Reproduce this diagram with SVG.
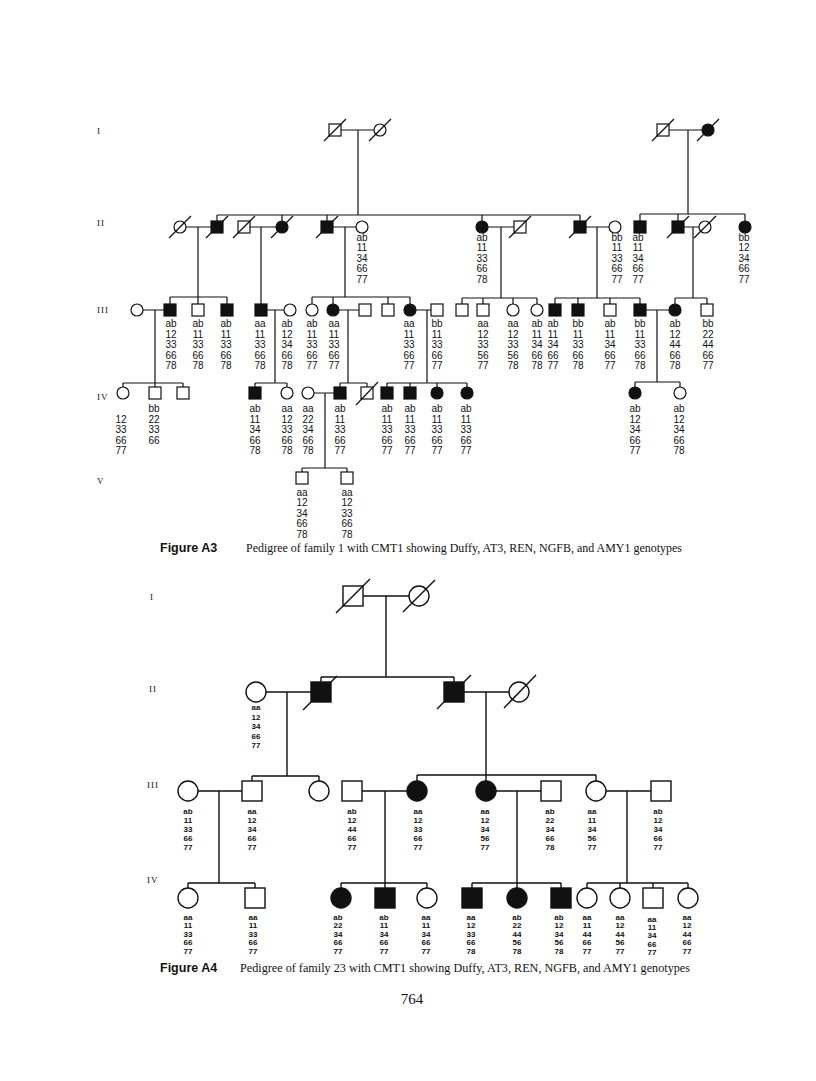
<svg xmlns="http://www.w3.org/2000/svg" width="816" height="1081" viewBox="0 0 816 1081">
<style>
.ln{stroke:#111;stroke-width:1.2;fill:none}
.ln4{stroke:#111;stroke-width:1.4;fill:none}
.o{fill:#fff;stroke:#111;stroke-width:1.2}
.f{fill:#111;stroke:#111;stroke-width:1.2}
.o4{fill:#fff;stroke:#111;stroke-width:1.4}
.f4{fill:#111;stroke:#111;stroke-width:1.4}
.d{stroke:#111;stroke-width:1.2}
.d4{stroke:#111;stroke-width:1.4}
.g3{font-family:"Liberation Sans","DejaVu Sans",Arial,sans-serif;font-size:10px;text-anchor:middle;fill:#111}
.g4{font-family:"Liberation Sans","DejaVu Sans",Arial,sans-serif;font-size:8px;font-weight:bold;text-anchor:middle;fill:#111}
.gen{font-family:"Liberation Serif","Times New Roman",serif;font-size:9px;fill:#111;letter-spacing:1px}
.cap{font-family:"Liberation Serif","Times New Roman",serif;font-size:12px;fill:#111}
.fig{font-family:"Liberation Sans",Arial,sans-serif;font-weight:bold;font-size:12.5px;fill:#111}
</style>
<rect width="816" height="1081" fill="#fff"/>

<!-- ===== Figure A3 ===== -->
<g id="a3-genlabels">
<text class="gen" x="97" y="134">I</text>
<text class="gen" x="97" y="226">II</text>
<text class="gen" x="97" y="312.5">III</text>
<text class="gen" x="97" y="399.5">IV</text>
<text class="gen" x="97" y="483.5">V</text>
</g>

<g id="a3-connectors">
<path class="ln" d="M341 130H374M358 130V215M217 215H580M217 215V221M282 215V221M327 215V221M482 215V221M580 215V221"/>
<path class="ln" d="M669 130H702M688 130V214M640 214H745M640 214V221M678 214V221M745 214V221"/>
<path class="ln" d="M186 227H211M198 227V297M250 227H276M261 227V304M333 227H356M345 227V297M488 227H514M501 227V298M586 227H609M597 227V298M684 227H699M693 227V298"/>
<path class="ln" d="M170 297H227M170 297V304M198 297V304M227 297V304M312 297H410M312 297V304M333 297V304M388 297V304M410 297V304M462 298H537M462 298V304M483 298V304M513 298V304M537 298V304M555 298H640M555 298V304M578 298V304M610 298V304M640 298V304M675 298H707M675 298V304M707 298V304"/>
<path class="ln" d="M143 310H164M155 310V383M267 310H284M275 310V383M339 310H359M348 310V383M416 310H431M427 310V383M646 310H669M657 310V382"/>
<path class="ln" d="M123 383H183M123 383V387M155 383V387M183 383V387M255 383H287M255 383V387M287 383V387M340 383H367M340 383V387M367 383V387M387 383H467M387 383V387M410 383V387M437 383V387M467 383V387M635 382H680M635 382V387M680 382V387"/>
<path class="ln" d="M314 393H334M325 393V468M302 468H347M302 468V472M347 468V472"/>
</g>

<!-- Gen I -->
<g id="a3-I-1"><rect class="o" x="329" y="124" width="12" height="12"/><line class="d" x1="324" y1="141" x2="346" y2="119"/></g>
<g id="a3-I-2"><circle class="o" cx="380" cy="130" r="6"/><line class="d" x1="369" y1="141" x2="391" y2="119"/></g>
<g id="a3-I-3"><rect class="o" x="657" y="124" width="12" height="12"/><line class="d" x1="652" y1="141" x2="674" y2="119"/></g>
<g id="a3-I-4"><circle class="f" cx="708" cy="130" r="6"/><line class="d" x1="697" y1="141" x2="719" y2="119"/></g>

<!-- Gen II -->
<g id="a3-II-1"><circle class="o" cx="180" cy="227" r="6"/><line class="d" x1="169" y1="238" x2="191" y2="216"/></g>
<g id="a3-II-2"><rect class="f" x="211" y="221" width="12" height="12"/><line class="d" x1="206" y1="238" x2="228" y2="216"/></g>
<g id="a3-II-3"><rect class="o" x="238" y="221" width="12" height="12"/><line class="d" x1="233" y1="238" x2="255" y2="216"/></g>
<g id="a3-II-4"><circle class="f" cx="282" cy="227" r="6"/><line class="d" x1="271" y1="238" x2="293" y2="216"/></g>
<g id="a3-II-5"><rect class="f" x="321" y="221" width="12" height="12"/><line class="d" x1="316" y1="238" x2="338" y2="216"/></g>
<g id="a3-II-6"><circle class="o" cx="362" cy="227" r="6"/><text class="g3" x="362" y="240.5"><tspan x="362">ab</tspan><tspan x="362" dy="10.6">11</tspan><tspan x="362" dy="10.6">34</tspan><tspan x="362" dy="10.6">66</tspan><tspan x="362" dy="10.6">77</tspan></text></g>
<g id="a3-II-7"><circle class="f" cx="482" cy="227" r="6"/><text class="g3" x="482" y="240.5"><tspan x="482">ab</tspan><tspan x="482" dy="10.6">11</tspan><tspan x="482" dy="10.6">33</tspan><tspan x="482" dy="10.6">66</tspan><tspan x="482" dy="10.6">78</tspan></text></g>
<g id="a3-II-8"><rect class="o" x="514" y="221" width="12" height="12"/><line class="d" x1="509" y1="238" x2="531" y2="216"/></g>
<g id="a3-II-9"><rect class="f" x="574" y="221" width="12" height="12"/><line class="d" x1="569" y1="238" x2="591" y2="216"/></g>
<g id="a3-II-10"><circle class="o" cx="615" cy="227" r="6"/><text class="g3" x="617" y="240.5"><tspan x="617">bb</tspan><tspan x="617" dy="10.6">11</tspan><tspan x="617" dy="10.6">33</tspan><tspan x="617" dy="10.6">66</tspan><tspan x="617" dy="10.6">77</tspan></text></g>
<g id="a3-II-11"><rect class="f" x="634" y="221" width="12" height="12"/><text class="g3" x="638" y="240.5"><tspan x="638">ab</tspan><tspan x="638" dy="10.6">11</tspan><tspan x="638" dy="10.6">34</tspan><tspan x="638" dy="10.6">66</tspan><tspan x="638" dy="10.6">77</tspan></text></g>
<g id="a3-II-12"><rect class="f" x="672" y="221" width="12" height="12"/><line class="d" x1="667" y1="238" x2="689" y2="216"/></g>
<g id="a3-II-13"><circle class="o" cx="705" cy="227" r="6"/><line class="d" x1="694" y1="238" x2="716" y2="216"/></g>
<g id="a3-II-14"><circle class="f" cx="745" cy="227" r="6"/><text class="g3" x="744" y="240.5"><tspan x="744">bb</tspan><tspan x="744" dy="10.6">12</tspan><tspan x="744" dy="10.6">34</tspan><tspan x="744" dy="10.6">66</tspan><tspan x="744" dy="10.6">77</tspan></text></g>

<!-- Gen III -->
<g id="a3-III-1"><circle class="o" cx="137" cy="310" r="6"/></g>
<g id="a3-III-2"><rect class="f" x="164" y="304" width="12" height="12"/><text class="g3" x="171" y="327"><tspan x="171">ab</tspan><tspan x="171" dy="10.6">12</tspan><tspan x="171" dy="10.6">33</tspan><tspan x="171" dy="10.6">66</tspan><tspan x="171" dy="10.6">78</tspan></text></g>
<g id="a3-III-3"><rect class="o" x="192" y="304" width="12" height="12"/><text class="g3" x="198" y="327"><tspan x="198">ab</tspan><tspan x="198" dy="10.6">11</tspan><tspan x="198" dy="10.6">33</tspan><tspan x="198" dy="10.6">66</tspan><tspan x="198" dy="10.6">78</tspan></text></g>
<g id="a3-III-4"><rect class="f" x="221" y="304" width="12" height="12"/><text class="g3" x="226" y="327"><tspan x="226">ab</tspan><tspan x="226" dy="10.6">11</tspan><tspan x="226" dy="10.6">33</tspan><tspan x="226" dy="10.6">66</tspan><tspan x="226" dy="10.6">78</tspan></text></g>
<g id="a3-III-5"><rect class="f" x="255" y="304" width="12" height="12"/><text class="g3" x="260" y="327"><tspan x="260">aa</tspan><tspan x="260" dy="10.6">11</tspan><tspan x="260" dy="10.6">33</tspan><tspan x="260" dy="10.6">66</tspan><tspan x="260" dy="10.6">78</tspan></text></g>
<g id="a3-III-6"><circle class="o" cx="290" cy="310" r="6"/><text class="g3" x="287" y="327"><tspan x="287">ab</tspan><tspan x="287" dy="10.6">12</tspan><tspan x="287" dy="10.6">34</tspan><tspan x="287" dy="10.6">66</tspan><tspan x="287" dy="10.6">78</tspan></text></g>
<g id="a3-III-7"><circle class="o" cx="312" cy="310" r="6"/><text class="g3" x="312" y="327"><tspan x="312">ab</tspan><tspan x="312" dy="10.6">11</tspan><tspan x="312" dy="10.6">33</tspan><tspan x="312" dy="10.6">66</tspan><tspan x="312" dy="10.6">77</tspan></text></g>
<g id="a3-III-8"><circle class="f" cx="333" cy="310" r="6"/><text class="g3" x="334" y="327"><tspan x="334">aa</tspan><tspan x="334" dy="10.6">11</tspan><tspan x="334" dy="10.6">33</tspan><tspan x="334" dy="10.6">66</tspan><tspan x="334" dy="10.6">77</tspan></text></g>
<g id="a3-III-9"><rect class="o" x="359" y="304" width="12" height="12"/></g>
<g id="a3-III-10"><rect class="o" x="382" y="304" width="12" height="12"/></g>
<g id="a3-III-11"><circle class="f" cx="410" cy="310" r="6"/><text class="g3" x="409" y="327"><tspan x="409">aa</tspan><tspan x="409" dy="10.6">11</tspan><tspan x="409" dy="10.6">33</tspan><tspan x="409" dy="10.6">66</tspan><tspan x="409" dy="10.6">77</tspan></text></g>
<g id="a3-III-12"><rect class="o" x="431" y="304" width="12" height="12"/><text class="g3" x="437" y="327"><tspan x="437">bb</tspan><tspan x="437" dy="10.6">11</tspan><tspan x="437" dy="10.6">33</tspan><tspan x="437" dy="10.6">66</tspan><tspan x="437" dy="10.6">77</tspan></text></g>
<g id="a3-III-13"><rect class="o" x="456" y="304" width="12" height="12"/></g>
<g id="a3-III-14"><rect class="o" x="477" y="304" width="12" height="12"/><text class="g3" x="483" y="327"><tspan x="483">aa</tspan><tspan x="483" dy="10.6">12</tspan><tspan x="483" dy="10.6">33</tspan><tspan x="483" dy="10.6">56</tspan><tspan x="483" dy="10.6">77</tspan></text></g>
<g id="a3-III-15"><circle class="o" cx="513" cy="310" r="6"/><text class="g3" x="513" y="327"><tspan x="513">aa</tspan><tspan x="513" dy="10.6">12</tspan><tspan x="513" dy="10.6">33</tspan><tspan x="513" dy="10.6">56</tspan><tspan x="513" dy="10.6">78</tspan></text></g>
<g id="a3-III-16"><circle class="o" cx="537" cy="310" r="6"/><text class="g3" x="537" y="327"><tspan x="537">ab</tspan><tspan x="537" dy="10.6">11</tspan><tspan x="537" dy="10.6">34</tspan><tspan x="537" dy="10.6">66</tspan><tspan x="537" dy="10.6">78</tspan></text></g>
<g id="a3-III-17"><rect class="f" x="549" y="304" width="12" height="12"/><text class="g3" x="553" y="327"><tspan x="553">ab</tspan><tspan x="553" dy="10.6">11</tspan><tspan x="553" dy="10.6">34</tspan><tspan x="553" dy="10.6">66</tspan><tspan x="553" dy="10.6">77</tspan></text></g>
<g id="a3-III-18"><rect class="f" x="572" y="304" width="12" height="12"/><text class="g3" x="578" y="327"><tspan x="578">bb</tspan><tspan x="578" dy="10.6">11</tspan><tspan x="578" dy="10.6">33</tspan><tspan x="578" dy="10.6">66</tspan><tspan x="578" dy="10.6">78</tspan></text></g>
<g id="a3-III-19"><rect class="o" x="604" y="304" width="12" height="12"/><text class="g3" x="610" y="327"><tspan x="610">ab</tspan><tspan x="610" dy="10.6">11</tspan><tspan x="610" dy="10.6">34</tspan><tspan x="610" dy="10.6">66</tspan><tspan x="610" dy="10.6">77</tspan></text></g>
<g id="a3-III-20"><rect class="f" x="634" y="304" width="12" height="12"/><text class="g3" x="640" y="327"><tspan x="640">bb</tspan><tspan x="640" dy="10.6">11</tspan><tspan x="640" dy="10.6">33</tspan><tspan x="640" dy="10.6">66</tspan><tspan x="640" dy="10.6">78</tspan></text></g>
<g id="a3-III-21"><circle class="f" cx="675" cy="310" r="6"/><text class="g3" x="675" y="327"><tspan x="675">ab</tspan><tspan x="675" dy="10.6">12</tspan><tspan x="675" dy="10.6">44</tspan><tspan x="675" dy="10.6">66</tspan><tspan x="675" dy="10.6">78</tspan></text></g>
<g id="a3-III-22"><rect class="o" x="701" y="304" width="12" height="12"/><text class="g3" x="708" y="327"><tspan x="708">bb</tspan><tspan x="708" dy="10.6">22</tspan><tspan x="708" dy="10.6">44</tspan><tspan x="708" dy="10.6">66</tspan><tspan x="708" dy="10.6">77</tspan></text></g>

<!-- Gen IV -->
<g id="a3-IV-1"><circle class="o" cx="123" cy="393" r="6"/><text class="g3" x="121" y="422.5"><tspan x="121">12</tspan><tspan x="121" dy="10.6">33</tspan><tspan x="121" dy="10.6">66</tspan><tspan x="121" dy="10.6">77</tspan></text></g>
<g id="a3-IV-2"><rect class="o" x="149" y="387" width="12" height="12"/><text class="g3" x="154" y="412"><tspan x="154">bb</tspan><tspan x="154" dy="10.6">22</tspan><tspan x="154" dy="10.6">33</tspan><tspan x="154" dy="10.6">66</tspan></text></g>
<g id="a3-IV-3"><rect class="o" x="177" y="387" width="12" height="12"/></g>
<g id="a3-IV-4"><rect class="f" x="249" y="387" width="12" height="12"/><text class="g3" x="255" y="412"><tspan x="255">ab</tspan><tspan x="255" dy="10.6">11</tspan><tspan x="255" dy="10.6">34</tspan><tspan x="255" dy="10.6">66</tspan><tspan x="255" dy="10.6">78</tspan></text></g>
<g id="a3-IV-5"><circle class="o" cx="287" cy="393" r="6"/><text class="g3" x="287" y="412"><tspan x="287">aa</tspan><tspan x="287" dy="10.6">12</tspan><tspan x="287" dy="10.6">33</tspan><tspan x="287" dy="10.6">66</tspan><tspan x="287" dy="10.6">78</tspan></text></g>
<g id="a3-IV-6"><circle class="o" cx="308" cy="393" r="6"/><text class="g3" x="308" y="412"><tspan x="308">aa</tspan><tspan x="308" dy="10.6">22</tspan><tspan x="308" dy="10.6">34</tspan><tspan x="308" dy="10.6">66</tspan><tspan x="308" dy="10.6">78</tspan></text></g>
<g id="a3-IV-7"><rect class="f" x="334" y="387" width="12" height="12"/><text class="g3" x="340" y="412"><tspan x="340">ab</tspan><tspan x="340" dy="10.6">11</tspan><tspan x="340" dy="10.6">33</tspan><tspan x="340" dy="10.6">66</tspan><tspan x="340" dy="10.6">77</tspan></text></g>
<g id="a3-IV-8"><rect class="o" x="361" y="387" width="12" height="12"/><line class="d" x1="356" y1="405" x2="378" y2="382"/></g>
<g id="a3-IV-9"><rect class="f" x="381" y="387" width="12" height="12"/><text class="g3" x="387" y="412"><tspan x="387">ab</tspan><tspan x="387" dy="10.6">11</tspan><tspan x="387" dy="10.6">33</tspan><tspan x="387" dy="10.6">66</tspan><tspan x="387" dy="10.6">77</tspan></text></g>
<g id="a3-IV-10"><rect class="f" x="404" y="387" width="12" height="12"/><text class="g3" x="410" y="412"><tspan x="410">ab</tspan><tspan x="410" dy="10.6">11</tspan><tspan x="410" dy="10.6">33</tspan><tspan x="410" dy="10.6">66</tspan><tspan x="410" dy="10.6">77</tspan></text></g>
<g id="a3-IV-11"><circle class="f" cx="437" cy="393" r="6"/><text class="g3" x="437" y="412"><tspan x="437">ab</tspan><tspan x="437" dy="10.6">11</tspan><tspan x="437" dy="10.6">33</tspan><tspan x="437" dy="10.6">66</tspan><tspan x="437" dy="10.6">77</tspan></text></g>
<g id="a3-IV-12"><circle class="f" cx="467" cy="393" r="6"/><text class="g3" x="466" y="412"><tspan x="466">ab</tspan><tspan x="466" dy="10.6">11</tspan><tspan x="466" dy="10.6">33</tspan><tspan x="466" dy="10.6">66</tspan><tspan x="466" dy="10.6">77</tspan></text></g>
<g id="a3-IV-13"><circle class="f" cx="635" cy="393" r="6"/><text class="g3" x="635" y="412"><tspan x="635">ab</tspan><tspan x="635" dy="10.6">12</tspan><tspan x="635" dy="10.6">34</tspan><tspan x="635" dy="10.6">66</tspan><tspan x="635" dy="10.6">77</tspan></text></g>
<g id="a3-IV-14"><circle class="o" cx="680" cy="393" r="6"/><text class="g3" x="679" y="412"><tspan x="679">ab</tspan><tspan x="679" dy="10.6">12</tspan><tspan x="679" dy="10.6">34</tspan><tspan x="679" dy="10.6">66</tspan><tspan x="679" dy="10.6">78</tspan></text></g>

<!-- Gen V -->
<g id="a3-V-1"><rect class="o" x="296" y="472" width="12" height="12"/><text class="g3" x="302" y="495.5"><tspan x="302">aa</tspan><tspan x="302" dy="10.6">12</tspan><tspan x="302" dy="10.6">34</tspan><tspan x="302" dy="10.6">66</tspan><tspan x="302" dy="10.6">78</tspan></text></g>
<g id="a3-V-2"><rect class="o" x="341" y="472" width="12" height="12"/><text class="g3" x="347" y="495.5"><tspan x="347">aa</tspan><tspan x="347" dy="10.6">12</tspan><tspan x="347" dy="10.6">33</tspan><tspan x="347" dy="10.6">66</tspan><tspan x="347" dy="10.6">78</tspan></text></g>

<g id="a3-caption">
<text class="fig" x="160" y="552">Figure A3</text>
<text class="cap" x="246" y="552" textLength="436" lengthAdjust="spacingAndGlyphs">Pedigree of family 1 with CMT1 showing Duffy, AT3, REN, NGFB, and AMY1 genotypes</text>
</g>

<!-- ===== Figure A4 ===== -->
<g id="a4-genlabels">
<text class="gen" x="150" y="600">I</text>
<text class="gen" x="149" y="692">II</text>
<text class="gen" x="147" y="788">III</text>
<text class="gen" x="147" y="883">IV</text>
</g>

<g id="a4-connectors">
<path class="ln4" d="M363 596H409M386 596V677M321 677H454M321 677V682M454 677V682"/>
<path class="ln4" d="M266 692H311M287 692V776M252 776H319M252 776V781M319 776V781"/>
<path class="ln4" d="M464 692H509M486 692V781M417 775H596M417 775V781M596 775V781"/>
<path class="ln4" d="M198 791H242M219 791V883M362 791H407M385 791V888M496 791H541M517 791V888M606 791H651M627 791V883"/>
<path class="ln4" d="M188 883H255M188 883V888M255 883V888M341 883H427M341 883V888M427 883V888M472 883H561M472 883V888M561 883V888M587 883H688M587 883V888M620 883V888M653 883V888M688 883V888"/>
</g>

<!-- A4 Gen I -->
<g id="a4-I-1"><rect class="o4" x="343" y="586" width="20" height="20"/><line class="d4" x1="336" y1="613" x2="370" y2="579"/></g>
<g id="a4-I-2"><circle class="o4" cx="419" cy="596" r="10"/><line class="d4" x1="403" y1="612" x2="435" y2="580"/></g>
<!-- A4 Gen II -->
<g id="a4-II-1"><circle class="o4" cx="256" cy="692" r="10"/><text class="g4" x="256" y="710"><tspan x="256">aa</tspan><tspan x="256" dy="9.5">12</tspan><tspan x="256" dy="9.5">34</tspan><tspan x="256" dy="9.5">66</tspan><tspan x="256" dy="9.5">77</tspan></text></g>
<g id="a4-II-2"><rect class="f4" x="311" y="682" width="20" height="20"/><line class="d4" x1="303" y1="710" x2="337" y2="676"/></g>
<g id="a4-II-3"><rect class="f4" x="444" y="682" width="20" height="20"/><line class="d4" x1="437" y1="709" x2="471" y2="675"/></g>
<g id="a4-II-4"><circle class="o4" cx="519" cy="692" r="10"/><line class="d4" x1="504" y1="708" x2="536" y2="675"/></g>
<!-- A4 Gen III -->
<g id="a4-III-1"><circle class="o4" cx="188" cy="791" r="10"/><text class="g4" x="188" y="814"><tspan x="188">ab</tspan><tspan x="188" dy="9">11</tspan><tspan x="188" dy="9">33</tspan><tspan x="188" dy="9">66</tspan><tspan x="188" dy="9">77</tspan></text></g>
<g id="a4-III-2"><rect class="o4" x="242" y="781" width="20" height="20"/><text class="g4" x="252" y="814"><tspan x="252">aa</tspan><tspan x="252" dy="9">12</tspan><tspan x="252" dy="9">34</tspan><tspan x="252" dy="9">66</tspan><tspan x="252" dy="9">77</tspan></text></g>
<g id="a4-III-3"><circle class="o4" cx="319" cy="791" r="10"/></g>
<g id="a4-III-4"><rect class="o4" x="342" y="781" width="20" height="20"/><text class="g4" x="352" y="814"><tspan x="352">ab</tspan><tspan x="352" dy="9">12</tspan><tspan x="352" dy="9">44</tspan><tspan x="352" dy="9">66</tspan><tspan x="352" dy="9">77</tspan></text></g>
<g id="a4-III-5"><circle class="f4" cx="417" cy="791" r="10"/><text class="g4" x="418" y="814"><tspan x="418">aa</tspan><tspan x="418" dy="9">12</tspan><tspan x="418" dy="9">33</tspan><tspan x="418" dy="9">66</tspan><tspan x="418" dy="9">77</tspan></text></g>
<g id="a4-III-6"><circle class="f4" cx="486" cy="791" r="10"/><text class="g4" x="485" y="814"><tspan x="485">aa</tspan><tspan x="485" dy="9">12</tspan><tspan x="485" dy="9">34</tspan><tspan x="485" dy="9">56</tspan><tspan x="485" dy="9">77</tspan></text></g>
<g id="a4-III-7"><rect class="o4" x="541" y="781" width="20" height="20"/><text class="g4" x="550" y="814"><tspan x="550">ab</tspan><tspan x="550" dy="9">22</tspan><tspan x="550" dy="9">34</tspan><tspan x="550" dy="9">66</tspan><tspan x="550" dy="9">78</tspan></text></g>
<g id="a4-III-8"><circle class="o4" cx="596" cy="791" r="10"/><text class="g4" x="592" y="814"><tspan x="592">aa</tspan><tspan x="592" dy="9">11</tspan><tspan x="592" dy="9">34</tspan><tspan x="592" dy="9">56</tspan><tspan x="592" dy="9">77</tspan></text></g>
<g id="a4-III-9"><rect class="o4" x="651" y="781" width="20" height="20"/><text class="g4" x="658" y="814"><tspan x="658">ab</tspan><tspan x="658" dy="9">12</tspan><tspan x="658" dy="9">34</tspan><tspan x="658" dy="9">66</tspan><tspan x="658" dy="9">77</tspan></text></g>
<!-- A4 Gen IV -->
<g id="a4-IV-1"><circle class="o4" cx="188" cy="898" r="10"/><text class="g4" x="188" y="920"><tspan x="188">aa</tspan><tspan x="188" dy="8.4">11</tspan><tspan x="188" dy="8.4">33</tspan><tspan x="188" dy="8.4">66</tspan><tspan x="188" dy="8.4">77</tspan></text></g>
<g id="a4-IV-2"><rect class="o4" x="245" y="888" width="20" height="20"/><text class="g4" x="253" y="920"><tspan x="253">aa</tspan><tspan x="253" dy="8.4">11</tspan><tspan x="253" dy="8.4">33</tspan><tspan x="253" dy="8.4">66</tspan><tspan x="253" dy="8.4">77</tspan></text></g>
<g id="a4-IV-3"><circle class="f4" cx="341" cy="898" r="10"/><text class="g4" x="338" y="920"><tspan x="338">ab</tspan><tspan x="338" dy="8.4">22</tspan><tspan x="338" dy="8.4">34</tspan><tspan x="338" dy="8.4">66</tspan><tspan x="338" dy="8.4">77</tspan></text></g>
<g id="a4-IV-4"><rect class="f4" x="375" y="888" width="20" height="20"/><text class="g4" x="384" y="920"><tspan x="384">ab</tspan><tspan x="384" dy="8.4">11</tspan><tspan x="384" dy="8.4">34</tspan><tspan x="384" dy="8.4">66</tspan><tspan x="384" dy="8.4">77</tspan></text></g>
<g id="a4-IV-5"><circle class="o4" cx="427" cy="898" r="10"/><text class="g4" x="426" y="920"><tspan x="426">aa</tspan><tspan x="426" dy="8.4">11</tspan><tspan x="426" dy="8.4">34</tspan><tspan x="426" dy="8.4">66</tspan><tspan x="426" dy="8.4">77</tspan></text></g>
<g id="a4-IV-6"><rect class="f4" x="462" y="888" width="20" height="20"/><text class="g4" x="471" y="920"><tspan x="471">aa</tspan><tspan x="471" dy="8.4">12</tspan><tspan x="471" dy="8.4">33</tspan><tspan x="471" dy="8.4">66</tspan><tspan x="471" dy="8.4">78</tspan></text></g>
<g id="a4-IV-7"><circle class="f4" cx="517" cy="898" r="10"/><text class="g4" x="517" y="920"><tspan x="517">ab</tspan><tspan x="517" dy="8.4">22</tspan><tspan x="517" dy="8.4">44</tspan><tspan x="517" dy="8.4">56</tspan><tspan x="517" dy="8.4">78</tspan></text></g>
<g id="a4-IV-8"><rect class="f4" x="551" y="888" width="20" height="20"/><text class="g4" x="559" y="920"><tspan x="559">ab</tspan><tspan x="559" dy="8.4">12</tspan><tspan x="559" dy="8.4">34</tspan><tspan x="559" dy="8.4">56</tspan><tspan x="559" dy="8.4">78</tspan></text></g>
<g id="a4-IV-9"><circle class="o4" cx="587" cy="898" r="10"/><text class="g4" x="587" y="920"><tspan x="587">aa</tspan><tspan x="587" dy="8.4">11</tspan><tspan x="587" dy="8.4">44</tspan><tspan x="587" dy="8.4">66</tspan><tspan x="587" dy="8.4">77</tspan></text></g>
<g id="a4-IV-10"><circle class="o4" cx="620" cy="898" r="10"/><text class="g4" x="620" y="920"><tspan x="620">aa</tspan><tspan x="620" dy="8.4">12</tspan><tspan x="620" dy="8.4">44</tspan><tspan x="620" dy="8.4">56</tspan><tspan x="620" dy="8.4">77</tspan></text></g>
<g id="a4-IV-11"><rect class="o4" x="643" y="888" width="20" height="20"/><text class="g4" x="652" y="921.5"><tspan x="652">aa</tspan><tspan x="652" dy="8.4">11</tspan><tspan x="652" dy="8.4">34</tspan><tspan x="652" dy="8.4">66</tspan><tspan x="652" dy="8.4">77</tspan></text></g>
<g id="a4-IV-12"><circle class="o4" cx="688" cy="898" r="10"/><text class="g4" x="687" y="920"><tspan x="687">aa</tspan><tspan x="687" dy="8.4">12</tspan><tspan x="687" dy="8.4">44</tspan><tspan x="687" dy="8.4">66</tspan><tspan x="687" dy="8.4">77</tspan></text></g>

<g id="a4-caption">
<text class="fig" x="160" y="972">Figure A4</text>
<text class="cap" x="240" y="972" textLength="450" lengthAdjust="spacingAndGlyphs">Pedigree of family 23 with CMT1 showing Duffy, AT3, REN, NGFB, and AMY1 genotypes</text>
</g>

<g id="page-number"><text class="cap" x="412" y="1004" style="font-size:15px" text-anchor="middle">764</text></g>
</svg>
